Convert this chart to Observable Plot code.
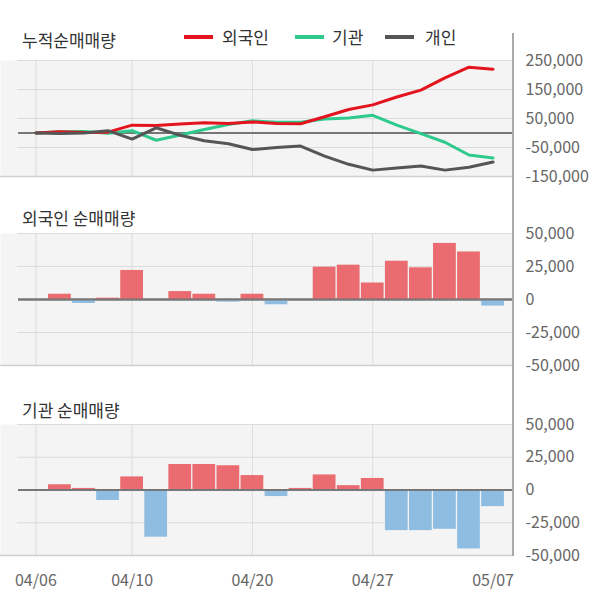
<!DOCTYPE html>
<html><head><meta charset="utf-8">
<script src="https://cdn.jsdelivr.net/npm/d3@7"></script>
<script src="https://cdn.jsdelivr.net/npm/@observablehq/plot@0.6"></script>
<style>
body{margin:0;background:#fff;font-family:"Noto Sans CJK KR",sans-serif;}
#wrap{position:relative;width:600px;height:604px;overflow:hidden;background:#fff;}
.t{position:absolute;left:22px;font-size:17px;line-height:20px;color:#333;white-space:nowrap;}
.plot{position:absolute;left:0;}
.axisline{position:absolute;left:512px;top:33px;width:2px;height:523px;background:#aaa;}
.lg{position:absolute;top:27px;font-size:17px;line-height:20px;color:#333;white-space:nowrap;}
.sw{position:absolute;top:35px;width:29px;height:4px;}
</style></head><body><div id="wrap"></div>
<script>
// trading days
const days = ["04/06","04/07","04/08","04/09","04/10","04/13","04/14","04/16","04/17","04/20","04/21","04/22","04/23","04/24","04/27","04/28","04/29","05/04","05/06","05/07"];
const tickDays = ["04/06","04/10","04/20","04/27","05/07"];
const gridDays = ["04/06","04/10","04/20","04/27"];

// cumulative net buying
const foreignCum = [0,4000,2000,3000,27000,26000,31000,35000,33000,38000,33000,32000,56000,81000,97000,124000,148000,190000,227000,220000];
const instCum = [0,4000,5000,-1000,8000,-25000,-7000,12000,29000,42000,37000,37000,48000,52000,61000,27000,-2000,-32000,-76000,-86000];
const indivCum = [0,-2000,0,8000,-21000,18000,-8000,-27000,-37000,-57000,-50000,-45000,-80000,-108000,-128000,-121000,-114000,-128000,-118000,-100000];

// daily net buying
const foreignDaily = [null,4000,-3000,1000,22000,0,6000,4000,-2000,4000,-4000,0,24500,26000,12500,29000,24000,42500,36000,-5000];
const instDaily = [null,4000,1200,-8000,10000,-36000,19500,19500,18500,11000,-5000,1200,11500,3300,8800,-31000,-31000,-30000,-45000,-12700];

// axis ticks
const cumTicks = [250000,150000,50000,-50000,-150000];
const dailyTicks = [50000,25000,0,-25000,-50000];

const seriesNames = ["외국인","기관","개인"];
const seriesColors = ["#e3141d","#2dc98d","#555555"];
const barPos = "#ea6b70", barNeg = "#8fbde1";

const idx = d => days.indexOf(d);
const xDomain = [-1.47, 19.85];
const fmt = d => d.toLocaleString("en-US");
const rows = arr => days.map((day,i) => ({i, day, v: arr[i]})).filter(r => r.v !== null);

const wrap = document.getElementById("wrap");

function panel({top, height, mTop, mBottom, yDomain, yTicks, marks, xAxis}) {
  const gridTicks = yTicks.filter(t => t !== yDomain[0] && t !== 0);
  const svg = Plot.plot({
    width: 600, height, marginTop: mTop, marginBottom: mBottom, marginLeft: 0, marginRight: 87,
    style: {fontFamily: '"Noto Sans CJK KR", sans-serif', fontSize: "16px", color: "#666", background: "transparent", overflow: "visible"},
    x: xAxis ? {domain: xDomain, label: null} : {domain: xDomain, axis: null},
    y: {domain: yDomain, axis: null, label: null},
    marks: [
      Plot.frame({fill: "#f4f4f4", stroke: null}),
      Plot.ruleX(gridDays.map(idx), {stroke: "#dcdcdc", strokeWidth: 1}),
      Plot.ruleY(gridTicks, {stroke: "#dcdcdc", strokeWidth: 1, insetLeft: 17}),
      Plot.ruleY([yDomain[0]], {stroke: "#cfcfcf", strokeWidth: 1.5}),
      Plot.ruleY([0], {stroke: "#777", strokeWidth: 2, insetLeft: 18}),
      ...marks,
      Plot.axisY(yTicks, {anchor: "right", tickSize: 0, tickPadding: 12, tickFormat: fmt, label: null}),
      xAxis ? Plot.axisX(tickDays.map(idx), {tickSize: 0, tickPadding: 19, tickFormat: i => days[i], label: null}) : null
    ]
  });
  svg.classList.add("plot");
  svg.style.top = top + "px";
  wrap.appendChild(svg);
}

// top: cumulative lines
panel({
  top: 0, height: 190, mTop: 60, mBottom: 14,
  yDomain: [-150000, 250000], yTicks: cumTicks,
  marks: [
    Plot.line(rows(instCum), {x: "i", y: "v", stroke: seriesColors[1], strokeWidth: 3}),
    Plot.line(rows(foreignCum), {x: "i", y: "v", stroke: seriesColors[0], strokeWidth: 3}),
    Plot.line(rows(indivCum), {x: "i", y: "v", stroke: seriesColors[2], strokeWidth: 3})
  ]
});

function bars(arr) {
  return Plot.rectY(rows(arr), {
    x1: d => d.i - 0.5, x2: d => d.i + 0.5, y1: 0, y2: "v",
    insetLeft: 0.65, insetRight: 0.65,
    fill: d => d.v >= 0 ? barPos : barNeg
  });
}

panel({
  top: 190, height: 190, mTop: 43, mBottom: 15,
  yDomain: [-50000, 50000], yTicks: dailyTicks,
  marks: [bars(foreignDaily), Plot.ruleY([0], {stroke: "#777", strokeWidth: 2, insetLeft: 18})]
});

panel({
  top: 380, height: 224, mTop: 44, mBottom: 49,
  yDomain: [-50000, 50000], yTicks: dailyTicks, xAxis: true,
  marks: [bars(instDaily), Plot.ruleY([0], {stroke: "#777", strokeWidth: 2, insetLeft: 18})]
});

// titles
function addText(cls, text, left, top) {
  const el = document.createElement("div");
  el.className = cls; el.textContent = text;
  if (left !== null) el.style.left = left + "px";
  el.style.top = top + "px";
  wrap.appendChild(el);
}
addText("t", "누적순매매량", null, 30);
addText("t", "외국인 순매매량", null, 208);
addText("t", "기관 순매매량", null, 400);

// legend
const swLeft = [184, 295, 385], txLeft = [222, 332, 425];
seriesNames.forEach((n, k) => {
  const sw = document.createElement("div");
  sw.className = "sw"; sw.style.left = swLeft[k] + "px"; sw.style.background = seriesColors[k];
  wrap.appendChild(sw);
  addText("lg", n, txLeft[k], 27);
});

const ax = document.createElement("div");
ax.className = "axisline";
wrap.appendChild(ax);
</script></body></html>
